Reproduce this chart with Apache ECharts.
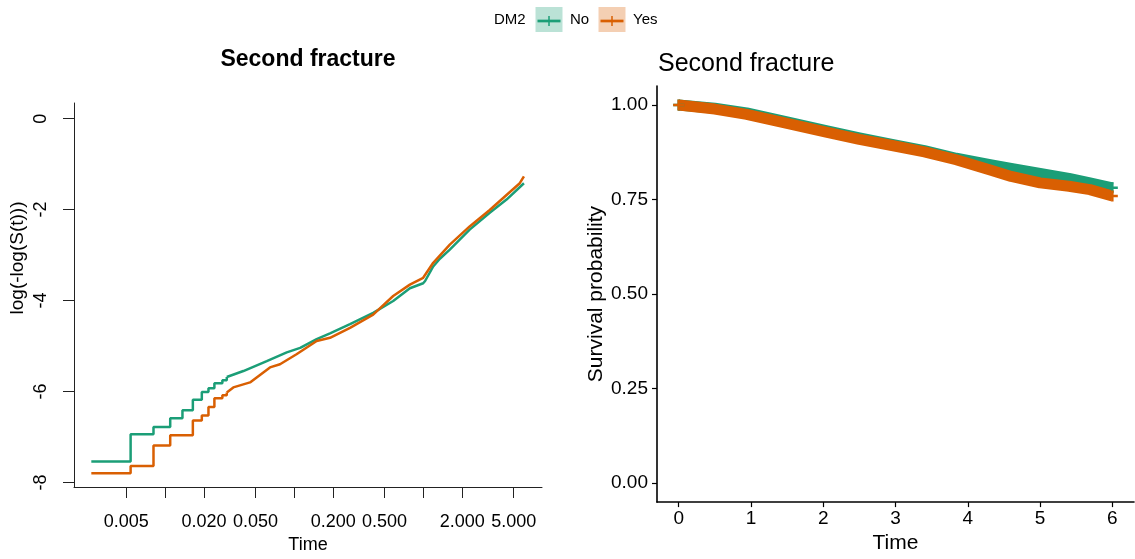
<!DOCTYPE html>
<html>
<head>
<meta charset="utf-8">
<script src="https://cdn.jsdelivr.net/npm/echarts@6/dist/echarts.min.js"></script>
<style>
  html, body { margin: 0; padding: 0; background: #ffffff; }
  #chart { width: 1135px; height: 559px; }
</style>
</head>
<body>
<div id="chart"></div>
<script>
// ---- Left panel: log(-log(S(t))) by DM2 group, time on a log scale ----
// early part of each curve: distinct Kaplan-Meier jumps (drawn as steps)
const noStepTimes   = [0.00268, 0.0054, 0.00812, 0.01094, 0.01361, 0.01638, 0.01922, 0.02164, 0.02405, 0.02773, 0.0300];
const noStepValues  = [-7.54, -6.94, -6.78, -6.59, -6.41, -6.18, -6.01, -5.93, -5.82, -5.75, -5.68];
const yesStepTimes  = [0.00268, 0.0054, 0.00812, 0.01094, 0.01638, 0.01922, 0.02164, 0.02405, 0.02773, 0.0300];
const yesStepValues = [-7.80, -7.64, -7.19, -6.96, -6.64, -6.53, -6.34, -6.15, -6.08, -6.02];
// later part: many small jumps, traced as a line
const noTailTimes   = [0.0300, 0.0403, 0.0612, 0.0874, 0.111, 0.149, 0.189, 0.270, 0.408, 0.583, 0.785, 0.995, 1.03, 1.19, 1.34, 1.60, 2.28, 3.26, 4.40, 6.0];
const noTailValues  = [-5.68, -5.55, -5.33, -5.14, -5.04, -4.85, -4.72, -4.52, -4.27, -4.01, -3.73, -3.62, -3.57, -3.25, -3.08, -2.88, -2.44, -2.07, -1.78, -1.42];
const yesTailTimes  = [0.0300, 0.0337, 0.0454, 0.0648, 0.0775, 0.104, 0.149, 0.189, 0.270, 0.408, 0.583, 0.785, 0.995, 1.19, 1.60, 2.28, 3.26, 4.40, 5.57, 6.0];
const yesTailValues = [-6.02, -5.91, -5.80, -5.47, -5.40, -5.18, -4.89, -4.82, -4.60, -4.31, -3.90, -3.65, -3.50, -3.17, -2.77, -2.37, -2.01, -1.68, -1.42, -1.27];

const logTickTimes  = [0.005, 0.01, 0.02, 0.05, 0.1, 0.2, 0.5, 1, 2, 5];
const logLabelTimes = [0.005, 0.02, 0.05, 0.2, 0.5, 2, 5];
const cloglogTicks  = [-8, -6, -4, -2, 0];

// ---- Right panel: survival probability ----
const survTimes = [0, 0.5, 0.94, 1.5, 2.04, 2.5, 2.97, 3.4, 3.84, 4.31, 4.6, 5.0, 5.4, 5.69, 6.0];
const survNo    = [1.0, 0.991, 0.979, 0.955, 0.932, 0.913, 0.895, 0.879, 0.859, 0.842, 0.832, 0.819, 0.806, 0.794, 0.781];
const survYes   = [1.0, 0.989, 0.975, 0.951, 0.928, 0.909, 0.892, 0.876, 0.855, 0.828, 0.811, 0.794, 0.785, 0.776, 0.759];
const survTicks = [0, 0.25, 0.5, 0.75, 1];
const timeTicks = [0, 1, 2, 3, 4, 5, 6];

const groups = ['No', 'Yes'];
const colNo = '#1B9E77', colYes = '#D95F02';
const FONT = 'Liberation Sans, Arial, Helvetica, sans-serif';

const lg = v => Math.log10(v);
const pairsLog = (ts, vs) => ts.map((t, i) => [lg(t), vs[i]]);
const pairs = (ts, vs) => ts.map((t, i) => [t, vs[i]]);

// censoring mark "+" used at curve ends
const plusPath = 'path://M0,5L10,5M5,0L5,10';
function withEndMarks(data, color) {
  return data.map((d, i) => {
    if (i === 0 || i === data.length - 1) {
      return { value: d, symbol: plusPath, symbolSize: 11,
               itemStyle: { color: 'none', borderColor: color, borderWidth: 2.5 } };
    }
    return { value: d, symbol: 'none' };
  });
}

const chart = echarts.init(document.getElementById('chart'), null, { renderer: 'canvas' });

const option = {
  backgroundColor: '#ffffff',
  animation: false,
  textStyle: { fontFamily: FONT },
  title: [
    { text: 'Second fracture', left: 303, top: 43, textAlign: 'center',
      textStyle: { fontFamily: FONT, fontWeight: 'bold', fontSize: 23, color: '#000' } },
    { text: 'Second fracture', left: 653, top: 47,
      textStyle: { fontFamily: FONT, fontWeight: 'normal', fontSize: 25, color: '#000' } }
  ],
  grid: [
    { left: 74, top: 103, width: 468, height: 386 },
    { left: 657, top: 86, width: 477, height: 419 }
  ],
  xAxis: [
    {
      gridIndex: 0, type: 'value', min: -2.706, max: 0.918,
      name: 'Time', nameLocation: 'middle', nameGap: 49,
      nameTextStyle: { fontFamily: FONT, fontSize: 18, color: '#000' },
      axisLine: { show: true, onZero: false, lineStyle: { color: '#222', width: 1 } },
      axisTick: { show: true, length: 11, customValues: logTickTimes.map(lg), lineStyle: { color: '#222', width: 1 } },
      axisLabel: { customValues: logLabelTimes.map(lg), margin: 26, fontFamily: FONT, fontSize: 18, color: '#000',
                   formatter: v => Math.pow(10, v).toFixed(3) },
      splitLine: { show: false }
    },
    {
      gridIndex: 1, type: 'value', min: -0.3, max: 6.3,
      name: 'Time', nameLocation: 'middle', nameGap: 28,
      nameTextStyle: { fontFamily: FONT, fontSize: 21, color: '#000' },
      axisLine: { show: true, onZero: false, lineStyle: { color: '#000', width: 1.6 } },
      axisTick: { show: true, length: 5, customValues: timeTicks, lineStyle: { color: '#000', width: 1.2 } },
      axisLabel: { customValues: timeTicks, margin: 7, fontFamily: FONT, fontSize: 19, color: '#000' },
      splitLine: { show: false }
    }
  ],
  yAxis: [
    {
      gridIndex: 0, type: 'value', min: -8.1, max: 0.344,
      name: 'log(-log(S(t)))', nameLocation: 'middle', nameGap: 47,
      nameTextStyle: { fontFamily: FONT, fontSize: 19, color: '#000', padding: [0, 0, 0, 74] },
      axisLine: { show: true, onZero: false, lineStyle: { color: '#222', width: 1 } },
      axisTick: { show: true, length: 11, customValues: cloglogTicks, lineStyle: { color: '#222', width: 1 } },
      axisLabel: { customValues: cloglogTicks, rotate: 90, margin: 24, fontFamily: FONT, fontSize: 18, color: '#000' },
      splitLine: { show: false }
    },
    {
      gridIndex: 1, type: 'value', min: -0.05, max: 1.05,
      name: 'Survival probability', nameLocation: 'middle', nameGap: 50,
      nameTextStyle: { fontFamily: FONT, fontSize: 21, color: '#000' },
      axisLine: { show: true, onZero: false, lineStyle: { color: '#000', width: 1.6 } },
      axisTick: { show: true, length: 5, customValues: survTicks, lineStyle: { color: '#000', width: 1.2 } },
      axisLabel: { customValues: survTicks, margin: 9, fontFamily: FONT, fontSize: 19, color: '#000',
                   formatter: v => v.toFixed(2) },
      splitLine: { show: false }
    }
  ],
  series: [
    { name: 'No', type: 'line', xAxisIndex: 0, yAxisIndex: 0, step: 'end', showSymbol: false,
      data: pairsLog(noStepTimes, noStepValues), lineStyle: { color: colNo, width: 2.5 }, itemStyle: { color: colNo } },
    { name: 'No', type: 'line', xAxisIndex: 0, yAxisIndex: 0, showSymbol: false,
      data: pairsLog(noTailTimes, noTailValues), lineStyle: { color: colNo, width: 2.5 }, itemStyle: { color: colNo } },
    { name: 'Yes', type: 'line', xAxisIndex: 0, yAxisIndex: 0, step: 'end', showSymbol: false,
      data: pairsLog(yesStepTimes, yesStepValues), lineStyle: { color: colYes, width: 2.5 }, itemStyle: { color: colYes } },
    { name: 'Yes', type: 'line', xAxisIndex: 0, yAxisIndex: 0, showSymbol: false,
      data: pairsLog(yesTailTimes, yesTailValues), lineStyle: { color: colYes, width: 2.5 }, itemStyle: { color: colYes } },

    // survival curves: dense censoring marks form a thick band
    { name: 'No', type: 'line', xAxisIndex: 1, yAxisIndex: 1, showSymbol: true,
      data: withEndMarks(pairs(survTimes, survNo), colNo),
      lineStyle: { color: colNo, width: 11, cap: 'butt', join: 'round' } },
    { name: 'Yes', type: 'line', xAxisIndex: 1, yAxisIndex: 1, showSymbol: true,
      data: withEndMarks(pairs(survTimes, survYes), colYes),
      lineStyle: { color: colYes, width: 11, cap: 'butt', join: 'round' } }
  ],
  graphic: [
    { type: 'text', left: 494, top: 12, style: { text: 'DM2', font: '15px ' + FONT, fill: '#000' } },
    { type: 'group', left: 535, top: 7, children: [
      { type: 'rect', shape: { x: 0, y: 0, width: 27, height: 25 }, style: { fill: '#BBE2D6' } },
      { type: 'line', shape: { x1: 2, y1: 14, x2: 25, y2: 14 }, style: { stroke: colNo, lineWidth: 2.7 } },
      { type: 'line', shape: { x1: 13.5, y1: 9, x2: 13.5, y2: 19 }, style: { stroke: colNo, lineWidth: 1.5 } }
    ]},
    { type: 'text', left: 570, top: 12, style: { text: groups[0], font: '15px ' + FONT, fill: '#000' } },
    { type: 'group', left: 598, top: 7, children: [
      { type: 'rect', shape: { x: 0, y: 0, width: 27, height: 25 }, style: { fill: '#F4CFB3' } },
      { type: 'line', shape: { x1: 2, y1: 14, x2: 25, y2: 14 }, style: { stroke: colYes, lineWidth: 2.7 } },
      { type: 'line', shape: { x1: 13.5, y1: 9, x2: 13.5, y2: 19 }, style: { stroke: colYes, lineWidth: 1.5 } }
    ]},
    { type: 'text', left: 633, top: 12, style: { text: groups[1], font: '15px ' + FONT, fill: '#000' } }
  ]
};

chart.setOption(option);
</script>
</body>
</html>
